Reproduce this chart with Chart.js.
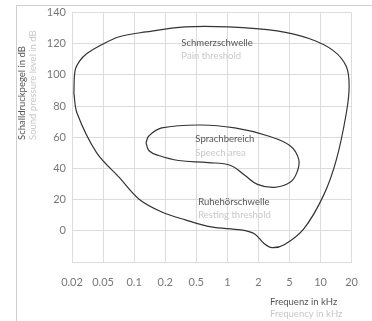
<!DOCTYPE html>
<html>
<head>
<meta charset="utf-8">
<script src="https://cdn.jsdelivr.net/npm/chart.js@4"></script>
<style>
  html, body { margin: 0; padding: 0; background: #fff; }
  #wrap { width: 372px; height: 321px; position: relative; }
</style>
</head>
<body>
<div id="wrap"><canvas id="chart"></canvas></div>
<script>
// frequency labels (kHz), evenly spaced on the axis
const freqLabels = ["0.02", "0.05", "0.1", "0.2", "0.5", "1", "2", "5", "10", "20"];
const dbTicks = [0, 20, 40, 60, 80, 100, 120, 140];

// outer curve: pain threshold on top, resting threshold at the bottom (x = index on freq axis)
const outerX = [0.06, 0.10, 0.25, 0.48, 0.89, 1.52, 2.38, 3.65, 5.02, 6.60, 7.65, 8.41, 8.83, 8.92, 8.83, 8.51, 8.10, 7.46, 6.83, 6.44, 6.19, 5.87, 5.43, 4.48, 3.65, 2.89, 2.16, 1.52, 0.79, 0.16, 0.06];
const outerY = [88.3, 102.9, 109, 113.7, 118.7, 124.5, 127.6, 130.8, 130.8, 128.3, 123.2, 115.6, 105.4, 92.7, 75.6, 45.7, 22.9, 1.3, -8.9, -10.8, -8.3, -1.9, 0.6, 2.5, 7.0, 12.1, 20.3, 34.3, 50.2, 75.6, 88.3];

// inner curve: speech area
const speechX = [2.38, 2.48, 2.89, 4.16, 5.24, 6.29, 7.02, 7.30, 7.24, 7.02, 6.51, 5.97, 5.56, 5.11, 4.38, 3.43, 2.79, 2.48, 2.38];
const speechY = [56.5, 61.0, 66.0, 67.9, 66.0, 61.0, 54.6, 45.7, 37.5, 31.1, 27.9, 29.8, 35.6, 41.9, 43.8, 45.1, 48.3, 51.4, 56.5];

const toPoints = (xs, ys) => xs.map((x, i) => ({ x: x, y: ys[i] }));

const FONT = "Lato, 'Open Sans', sans-serif";
const DARK = "#555";
const LIGHT = "#c8c8c8";

// labels written into the plot, positioned in data units
const notes = [
  { text: "Schmerzschwelle", x: 3.52, y: 120.6, color: DARK },
  { text: "Pain threshold", x: 3.52, y: 112.4, color: LIGHT },
  { text: "Sprachbereich", x: 3.97, y: 59.0, color: DARK },
  { text: "Speech area", x: 3.97, y: 50.2, color: LIGHT },
  { text: "Ruhehörschwelle", x: 4.06, y: 18.4, color: DARK },
  { text: "Resting threshold", x: 4.06, y: 10.2, color: LIGHT },
];

const textPlugin = {
  id: "texts",
  beforeDraw(chart) {
    const ctx = chart.ctx;
    ctx.save();
    // frame lines at top and left of the figure
    ctx.strokeStyle = "#cfcfcf";
    ctx.lineWidth = 1;
    ctx.beginPath();
    ctx.moveTo(16.5, 321);
    ctx.lineTo(16.5, 5.5);
    ctx.lineTo(372, 5.5);
    ctx.stroke();
    ctx.restore();
  },
  afterDraw(chart) {
    const ctx = chart.ctx;
    const xs = chart.scales.x, ys = chart.scales.y;
    ctx.save();
    ctx.font = "9.5px " + FONT;
    ctx.textBaseline = "middle";
    ctx.textAlign = "left";
    notes.forEach(n => {
      ctx.fillStyle = n.color;
      ctx.fillText(n.text, xs.getPixelForValue(n.x), ys.getPixelForValue(n.y));
    });

    // x axis title (two languages)
    ctx.fillStyle = DARK;
    ctx.fillText("Frequenz in kHz", 270, 302);
    ctx.fillStyle = LIGHT;
    ctx.fillText("Frequency in kHz", 270, 314);

    // y axis title (two languages)
    ctx.translate(22, 140);
    ctx.rotate(-Math.PI / 2);
    ctx.fillStyle = DARK;
    ctx.fillText("Schalldruckpegel in dB", 0, 0);
    ctx.fillStyle = LIGHT;
    ctx.fillText("Sound pressure level in dB", 0, 11);
    ctx.restore();
  }
};

new Chart(document.getElementById("chart"), {
  type: "scatter",
  data: {
    datasets: [
      {
        data: toPoints(outerX, outerY),
        showLine: true,
        borderColor: "#333",
        borderWidth: 1.2,
        pointRadius: 0,
        tension: 0.35,
        fill: false,
      },
      {
        data: toPoints(speechX, speechY),
        showLine: true,
        borderColor: "#333",
        borderWidth: 1.2,
        pointRadius: 0,
        tension: 0.4,
        fill: false,
      },
    ],
  },
  options: {
    responsive: true,
    maintainAspectRatio: false,
    animation: false,
    layout: { padding: { left: 0, right: 16, top: 8, bottom: 0 } },
    plugins: {
      legend: { display: false },
      tooltip: { enabled: false },
    },
    scales: {
      x: {
        type: "linear",
        min: 0,
        max: 9,
        afterBuildTicks: (axis) => {
          axis.ticks = freqLabels.map((_, i) => ({ value: i }));
        },
        afterFit: (axis) => { axis.height = 59; },
        ticks: {
          callback: (v) => freqLabels[v],
          color: "#777",
          font: { family: FONT, size: 11 },
          padding: 14,
          maxRotation: 0,
        },
        grid: { color: "#dcdcdc", drawTicks: false },
        border: { color: "#dcdcdc" },
      },
      y: {
        min: -20,
        max: 140,
        afterBuildTicks: (axis) => {
          axis.ticks = [-20].concat(dbTicks).map(v => ({ value: v }));
        },
        afterFit: (axis) => { axis.width = 72; },
        ticks: {
          callback: (v) => (v < 0 ? "" : v),
          color: "#777",
          font: { family: FONT, size: 11 },
          padding: 6,
        },
        grid: { color: "#dcdcdc", drawTicks: false },
        border: { color: "#dcdcdc" },
      },
    },
  },
  plugins: [textPlugin],
});
</script>
</body>
</html>
